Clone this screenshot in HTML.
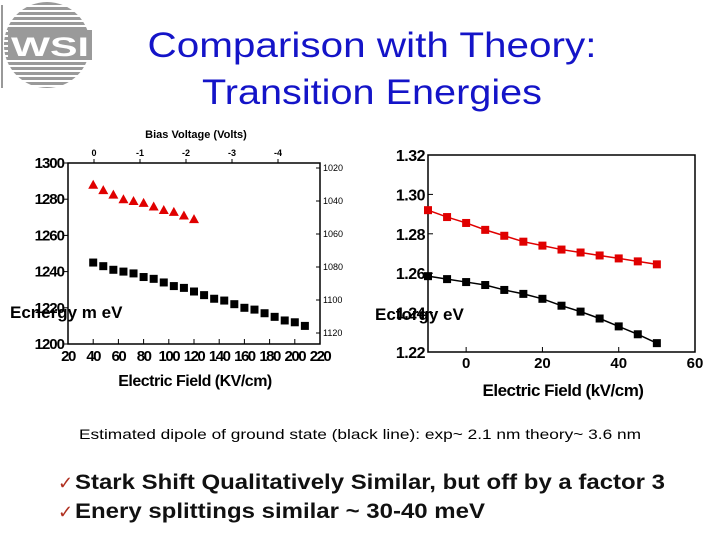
<!DOCTYPE html>
<html><head><meta charset="utf-8"><style>
html,body{margin:0;padding:0;background:#fff;}
svg{display:block;font-family:"Liberation Sans",sans-serif;}
</style></head><body>
<svg id="s" width="720" height="540" viewBox="0 0 720 540" xmlns="http://www.w3.org/2000/svg">
<g>
  <line x1="2" y1="5" x2="2" y2="88" stroke="#333" stroke-width="1"/>
  <clipPath id="lc"><ellipse cx="47" cy="45" rx="43" ry="43"/></clipPath>
  <g clip-path="url(#lc)" id="stripes"></g>
  <rect x="8" y="30" width="84" height="30" fill="#9a9a9a"/>
  <text x="50" y="56" font-size="27" font-weight="bold" fill="#fff" text-anchor="middle" textLength="78" lengthAdjust="spacingAndGlyphs">WSI</text>
</g>
<text x="372" y="57" font-size="35" fill="#1414c8" text-anchor="middle" textLength="449" lengthAdjust="spacingAndGlyphs">Comparison with Theory:</text>
<text x="372" y="104" font-size="35" fill="#1414c8" text-anchor="middle" textLength="340" lengthAdjust="spacingAndGlyphs">Transition Energies</text>

<g id="left"></g>
<g id="right"></g>

<text x="360" y="439" font-size="14" fill="#000" text-anchor="middle" textLength="562" lengthAdjust="spacingAndGlyphs">Estimated dipole of ground state (black line): exp~ 2.1 nm  theory~ 3.6 nm</text>
<text x="58" y="489" font-size="18" fill="#b03020">✓</text>
<text x="75" y="489" font-size="21" font-weight="bold" fill="#111" textLength="590" lengthAdjust="spacingAndGlyphs">Stark Shift Qualitatively Similar, but off by a factor 3</text>
<text x="58" y="518" font-size="18" fill="#b03020">✓</text>
<text x="75" y="518" font-size="21" font-weight="bold" fill="#111" textLength="410" lengthAdjust="spacingAndGlyphs">Enery splittings similar ~ 30-40 meV</text>
</svg>
<script>
// Left chart data
const leftBlackX=[40,48,56,64,72,80,88,96,104,112,120,128,136,144,152,160,168,176,184,192,200,208];
const leftBlackY=[1245,1243,1241,1240,1239,1237,1236,1234,1232,1231,1229,1227,1225,1224,1222,1220,1219,1217,1215,1213,1212,1210];
const leftRedX=[40,48,56,64,72,80,88,96,104,112,120];
const leftRedY=[1288,1285,1282.5,1280,1279,1278,1276,1274,1273,1271,1269];
const leftXTicks=[20,40,60,80,100,120,140,160,180,200,220];
const leftYTicks=[1200,1220,1240,1260,1280,1300];
const leftTopTicks=["0","-1","-2","-3","-4"];
const leftRightTicks=["1020","1040","1060","1080","1100","1120"];
// Right chart data
const rightX=[-10,-5,0,5,10,15,20,25,30,35,40,45,50];
const rightRedY=[1.292,1.2885,1.2855,1.282,1.279,1.276,1.274,1.272,1.2705,1.269,1.2675,1.266,1.2645];
const rightBlackY=[1.2585,1.257,1.2555,1.254,1.2515,1.2495,1.247,1.2435,1.2405,1.237,1.233,1.229,1.2245];
const rightXTicks=[0,20,40,60];
const rightYTicks=[1.22,1.24,1.26,1.28,1.30,1.32];

const NS="http://www.w3.org/2000/svg";
function mk(parent,tag,attrs,txt){const e=document.createElementNS(NS,tag);for(const k in attrs)e.setAttribute(k,attrs[k]);if(txt!==undefined)e.textContent=txt;parent.appendChild(e);return e;}

// logo stripes
const st=document.getElementById('stripes');
for(let y=2;y<90;y+=5){const r=mk(st,'rect',{x:0,y:y,width:95,height:3,fill:'#9a9a9a'});

}

// LEFT
const L=document.getElementById('left');
const lx=v=>68+(v-20)/200*252, ly=v=>344-(v-1200)/100*181;
let f=mk(L,'rect',{x:68,y:163,width:252,height:181,fill:'none',stroke:'#000','stroke-width':1.5});


leftXTicks.forEach(v=>{mk(L,'line',{x1:lx(v),y1:344,x2:lx(v),y2:339,stroke:'#000'});
const t=mk(L,'text',{x:lx(v),y:361,'font-size':15,'font-weight':'bold','text-anchor':'middle','letter-spacing':-1.5},v);

});
leftYTicks.forEach(v=>{mk(L,'line',{x1:68,y1:ly(v),x2:63,y2:ly(v),stroke:'#000'});
const t=mk(L,'text',{x:64,y:ly(v)+5,'font-size':15,'font-weight':'bold','text-anchor':'end','letter-spacing':-1},v);

});
leftTopTicks.forEach((s,i)=>{const x=94+i*46;mk(L,'line',{x1:x,y1:163,x2:x,y2:159,stroke:'#000'});
const t=mk(L,'text',{x:x,y:156,'font-size':9,'font-weight':'bold','text-anchor':'middle'},s);

});
leftRightTicks.forEach((s,i)=>{const y=168+i*33;mk(L,'line',{x1:320,y1:y,x2:316,y2:y,stroke:'#000'});
const t=mk(L,'text',{x:323,y:y+3,'font-size':9},s);

});
let tt=mk(L,'text',{x:196,y:138,'font-size':11,'font-weight':'bold','text-anchor':'middle'},'Bias Voltage (Volts)');


let xt=mk(L,'text',{x:195,y:386,'font-size':16,'font-weight':'bold','text-anchor':'middle','letter-spacing':-0.5},'Electric Field (KV/cm)');


let yl=mk(L,'text',{x:10,y:318,'font-size':17,'font-weight':'bold'},'Ecnergy m eV');


leftBlackX.forEach((v,i)=>{const r=mk(L,'rect',{x:lx(v)-4,y:ly(leftBlackY[i])-4,width:8,height:8,fill:'#000'});

});
leftRedX.forEach((v,i)=>{const x=lx(v),y=ly(leftRedY[i]);const p=mk(L,'polygon',{points:`${x-5},${y+4} ${x+5},${y+4} ${x},${y-5}`,fill:'#e00000'});

});

// RIGHT
const R=document.getElementById('right');
const rx=v=>428+(v+10)/70*267, ry=v=>352-(v-1.22)/0.1*197;
f=mk(R,'rect',{x:428,y:155,width:267,height:197,fill:'none',stroke:'#000','stroke-width':1.5});


rightXTicks.forEach(v=>{mk(R,'line',{x1:rx(v),y1:352,x2:rx(v),y2:347,stroke:'#000'});
const t=mk(R,'text',{x:rx(v),y:368,'font-size':15,'font-weight':'bold','text-anchor':'middle'},v);

});
rightYTicks.forEach(v=>{mk(R,'line',{x1:428,y1:ry(v),x2:433,y2:ry(v),stroke:'#000'});
const t=mk(R,'text',{x:425,y:ry(v)+6,'font-size':16,'font-weight':'bold','text-anchor':'end','letter-spacing':-0.5},v.toFixed(2));

});
xt=mk(R,'text',{x:563,y:396,'font-size':17,'font-weight':'bold','text-anchor':'middle','letter-spacing':-0.5},'Electric Field (kV/cm)');


yl=mk(R,'text',{x:375,y:320,'font-size':17,'font-weight':'bold'},'Ectorgy eV');


[[rightRedY,'#e00000','right-excited-state'],[rightBlackY,'#000','right-ground-state']].forEach(([ys,c,n])=>{
 const l=mk(R,'polyline',{points:rightX.map((v,i)=>rx(v)+','+ry(ys[i])).join(' '),fill:'none',stroke:c,'stroke-width':1.5});
 
 
 rightX.forEach((v,i)=>{const r=mk(R,'rect',{x:rx(v)-4,y:ry(ys[i])-4,width:8,height:8,fill:c});
 
 });
});
</script>
</body></html>
